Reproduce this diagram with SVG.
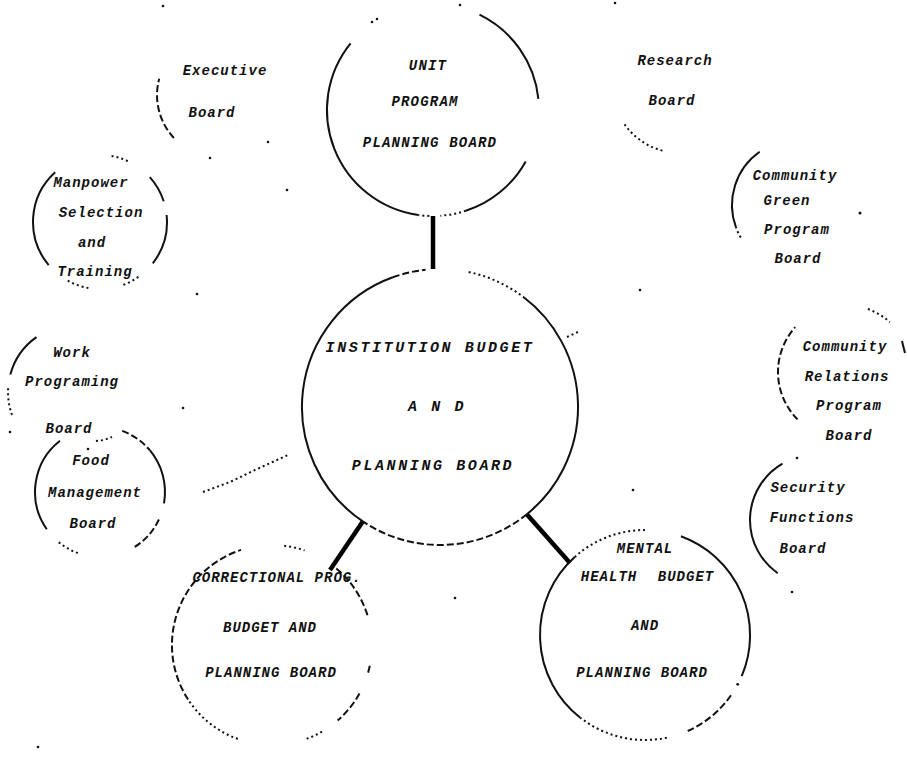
<svg xmlns="http://www.w3.org/2000/svg" width="907" height="761" viewBox="0 0 907 761">
<style>
.bg{fill:#fff}
.s{fill:none;stroke:#111;stroke-width:2}
.d{fill:none;stroke:#111;stroke-width:2;stroke-dasharray:7 3}
.o{fill:none;stroke:#111;stroke-width:2;stroke-dasharray:2 3}
.c{fill:none;stroke:#000;stroke-width:4.5}
.speck{fill:#111}
text{font-family:"Liberation Mono","DejaVu Sans Mono",monospace;font-style:italic;font-weight:bold;fill:#111;text-anchor:middle}
.t{font-size:14px;letter-spacing:1px}
.T{font-size:14px;letter-spacing:1.2px}
.B{font-size:15px;letter-spacing:2.6px}
</style>
<rect class="bg" x="0" y="0" width="907" height="761"/>

<g id="connectors">
<line class="c" x1="433" y1="216" x2="433" y2="269"/>
<line class="c" x1="362.8" y1="521.4" x2="330" y2="570"/>
<line class="c" x1="526.8" y1="514.3" x2="570" y2="563"/>
</g>

<g id="unit-program-planning-board">
<path class="s" d="M479.5,14.7 A106,106 0 0 1 538.4,98.9"/>
<path class="s" d="M525.7,161.4 A106,106 0 0 1 465.8,210.8"/>
<path class="o" d="M465.8,210.8 A106,106 0 0 1 440.4,215.7"/>
<path class="o" d="M429.3,215.9 A106,106 0 0 1 418.3,215.0"/>
<path class="s" d="M418.3,215.0 A106,106 0 0 1 350.6,43.3"/>
<circle class="speck" cx="372" cy="22" r="1.3"/>
<circle class="speck" cx="377" cy="19" r="1.3"/>
<text class="T" x="428" y="70">UNIT</text>
<text class="T" x="425" y="106">PROGRAM</text>
<text class="T" x="430" y="147">PLANNING BOARD</text>
</g>

<g id="institution-budget-and-planning-board">
<path class="s" d="M523.1,296.8 A138,138 0 0 1 526.8,514.3"/>
<path class="d" d="M526.8,514.3 A138,138 0 0 1 362.8,521.4"/>
<path class="s" d="M362.8,521.4 A138,138 0 0 1 392.8,277.3"/>
<path class="d" d="M392.8,277.3 A138,138 0 0 1 425.6,269.8"/>
<path class="o" d="M468.7,272.0 A138,138 0 0 1 523.1,296.8"/>
<path class="o" d="M567,337 L580,331"/>
<text class="B" x="430" y="352">INSTITUTION BUDGET</text>
<text class="B" x="437" y="411">A N D</text>
<text class="B" x="433" y="470">PLANNING BOARD</text>
</g>

<g id="executive-board">
<path class="d" d="M173.9,138.0 A63,63 0 0 1 159.2,78.7"/>
<circle class="speck" cx="163" cy="6" r="1.3"/>
<text class="t" x="225" y="75">Executive</text>
<text class="t" x="212" y="117">Board</text>
</g>

<g id="research-board">
<path class="o" d="M662.4,150.7 A68,68 0 0 1 624.3,124.0"/>
<circle class="speck" cx="615" cy="3" r="1.3"/>
<text class="t" x="675" y="65">Research</text>
<text class="t" x="672" y="105">Board</text>
</g>

<g id="manpower-selection-and-training">
<path class="s" d="M48.7,265.1 A67,67 0 0 1 55.2,172.2"/>
<path class="o" d="M111.6,156.0 A67,67 0 0 1 128.3,161.3"/>
<path class="s" d="M149.8,177.2 A67,67 0 0 1 163.7,201.3"/>
<path class="s" d="M166.6,215.0 A67,67 0 0 1 152.8,263.3"/>
<path class="o" d="M138.4,276.9 A67,67 0 0 1 122.9,285.0"/>
<path class="o" d="M88.4,288.0 A67,67 0 0 1 66.5,280.0"/>
<text class="t" x="91" y="187">Manpower</text>
<text class="t" x="101" y="217">Selection</text>
<text class="t" x="92" y="247">and</text>
<text class="t" x="95" y="276">Training</text>
</g>

<g id="community-green-program-board">
<path class="o" d="M740.7,237.5 A65,65 0 0 1 735.9,227.2"/>
<path class="s" d="M735.9,227.2 A65,65 0 0 1 759.7,151.8"/>
<circle class="speck" cx="860" cy="213" r="1.5"/>
<text class="t" x="795" y="180">Community</text>
<text class="t" x="787" y="205">Green</text>
<text class="t" x="797" y="234">Program</text>
<text class="t" x="798" y="263">Board</text>
</g>

<g id="work-programing-board">
<path class="s" d="M10.3,374.6 A67,67 0 0 1 36.5,337.1"/>
<path class="o" d="M12.0,414.9 A67,67 0 0 1 8.3,386.2"/>
<circle class="speck" cx="10" cy="432" r="1.3"/>
<text class="t" x="72" y="357">Work</text>
<text class="t" x="72" y="386">Programing</text>
<text class="t" x="69" y="433">Board</text>
</g>

<g id="community-relations-program-board">
<path class="d" d="M797.6,419.4 A67,67 0 0 1 795.2,327.2"/>
<path class="o" d="M867.9,309.0 A67,67 0 0 1 889.8,322.2"/>
<path class="s" d="M902,341 L905,353"/>
<text class="t" x="845" y="351">Community</text>
<text class="t" x="847" y="381">Relations</text>
<text class="t" x="849" y="410">Program</text>
<text class="t" x="849" y="440">Board</text>
</g>

<g id="food-management-board">
<path class="s" d="M46.8,529.3 A65,65 0 0 1 60.0,440.8"/>
<path class="o" d="M77.8,553.1 A65,65 0 0 1 58.2,541.8"/>
<path class="o" d="M96,441 L104,440 L112,437"/>
<path class="d" d="M122.2,430.9 A65,65 0 0 1 149.8,450.2"/>
<path class="s" d="M149.8,450.2 A65,65 0 0 1 164.0,503.3"/>
<path class="d" d="M158.9,519.5 A65,65 0 0 1 132.5,548.3"/>
<text class="t" x="91" y="465">Food</text>
<text class="t" x="95" y="497">Management</text>
<text class="t" x="93" y="528">Board</text>
</g>

<g id="security-functions-board">
<path class="s" d="M777.7,573.2 A65,65 0 0 1 782.5,463.7"/>
<circle class="speck" cx="797" cy="458" r="1.3"/>
<circle class="speck" cx="792" cy="592" r="1.3"/>
<text class="t" x="808" y="492">Security</text>
<text class="t" x="812" y="522">Functions</text>
<text class="t" x="803" y="553">Board</text>
</g>

<g id="correctional-prog-budget-and-planning-board">
<path class="o" d="M237.8,739.0 A100,100 0 0 1 188.1,699.5"/>
<path class="d" d="M188.1,699.5 A100,100 0 0 1 241.1,549.9"/>
<path class="o" d="M284.2,545.7 A100,100 0 0 1 304.6,550.4"/>
<path class="d" d="M336.3,568.4 A100,100 0 0 1 368.1,617.4"/>
<path class="s" d="M369.8,665.8 A100,100 0 0 1 368.1,672.6"/>
<path class="d" d="M359.5,693.5 A100,100 0 0 1 337.6,720.5"/>
<path class="o" d="M322,731.6 A100,100 0 0 1 306.2,739.0"/>
<text class="t" x="277" y="582">CORRECTIONAL PROG.</text>
<text class="t" x="270" y="632">BUDGET AND</text>
<text class="t" x="271" y="677">PLANNING BOARD</text>
</g>

<g id="mental-health-budget-and-planning-board">
<path class="s" d="M680.9,536.3 A105,105 0 0 1 741.7,676.1"/>
<circle class="speck" cx="737.7" cy="684.3" r="1.4"/>
<path class="d" d="M731.0,695.3 A105,105 0 0 1 687.7,731.0"/>
<path class="o" d="M666.8,737.7 A105,105 0 0 1 580.3,717.7"/>
<path class="s" d="M580.3,717.7 A105,105 0 0 1 574.7,557.0"/>
<path class="o" d="M574.7,557.0 A105,105 0 0 1 645,530"/>
<text class="t" x="645" y="553">MENTAL</text>
<text class="t" x="609" y="581">HEALTH</text>
<text class="t" x="686" y="581">BUDGET</text>
<text class="t" x="645" y="630">AND</text>
<text class="t" x="642" y="677">PLANNING BOARD</text>
</g>

<g id="marks">
<path class="o" d="M203,492 L230,482 L255,470 L288,455"/>
<circle class="speck" cx="268" cy="142" r="1.3"/>
<circle class="speck" cx="210" cy="158" r="1.3"/>
<circle class="speck" cx="287" cy="190" r="1.3"/>
<circle class="speck" cx="197" cy="294" r="1.3"/>
<circle class="speck" cx="183" cy="408" r="1.3"/>
<circle class="speck" cx="88" cy="449" r="1.3"/>
<circle class="speck" cx="633" cy="490" r="1.3"/>
<circle class="speck" cx="455" cy="598" r="1.3"/>
<circle class="speck" cx="640" cy="290" r="1.3"/>
<circle class="speck" cx="38" cy="747" r="1.3"/>
<circle class="speck" cx="460" cy="5" r="1.3"/>
</g>
</svg>
